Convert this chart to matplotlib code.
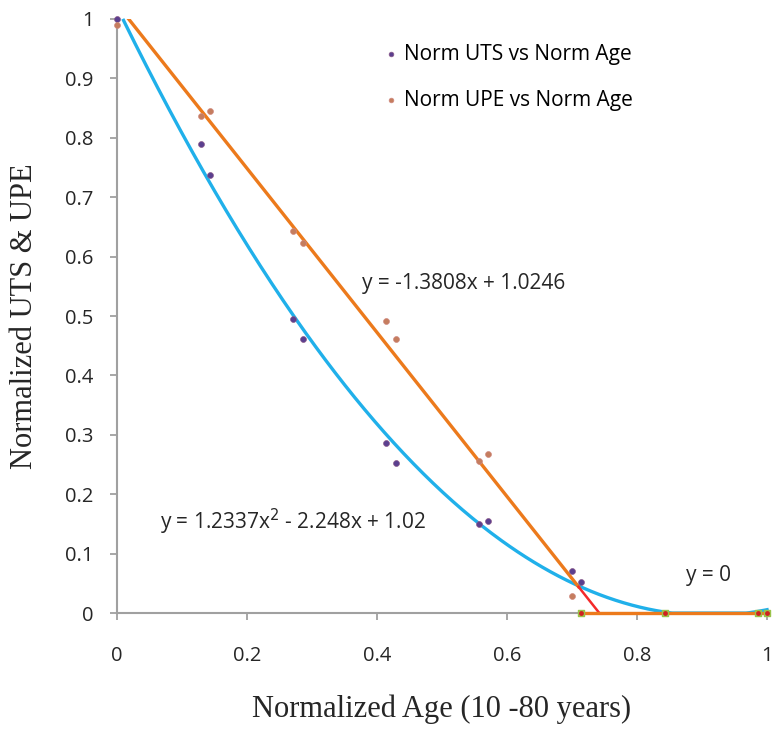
import matplotlib
matplotlib.use("Agg")
import matplotlib.pyplot as plt
import numpy as np

# ── Data ──────────────────────────────────────────────────────────────────────
uts_x = [0.0, 0.129, 0.143, 0.271, 0.286, 0.414, 0.429, 0.557, 0.571, 0.700, 0.714]
uts_y = [1.0, 0.790, 0.738, 0.495, 0.461, 0.287, 0.252, 0.150, 0.155, 0.070, 0.052]

upe_x = [0.0, 0.129, 0.143, 0.271, 0.286, 0.414, 0.429, 0.557, 0.571, 0.700]
upe_y = [0.990, 0.837, 0.845, 0.643, 0.623, 0.491, 0.461, 0.256, 0.268, 0.028]

zero_x = [0.714, 0.843, 0.986, 1.0]
zero_y = [0.0, 0.0, 0.0, 0.0]

# fitted equations shown on the chart
quad = [1.2337, -2.248, 1.02]
lin = [-1.3808, 1.0246]

x_ticks = [0, 0.2, 0.4, 0.6, 0.8, 1]
y_ticks = [0, 0.1, 0.2, 0.3, 0.4, 0.5, 0.6, 0.7, 0.8, 0.9, 1]

BLUE = "#20b0ea"
ORANGE = "#ec7a1c"
RED = "#f42a2a"
GRAY = "#a0a0a0"
UTS_C = "#5b3f8f"
UPE_C = "#c57d5e"
TXT = "#262626"
SANS = ["Open Sans", "DejaVu Sans"]
SERIF = ["Liberation Serif", "DejaVu Serif"]

fig = plt.figure(figsize=(7.72, 7.29), dpi=100)
ax = fig.add_axes([0.1516, 0.159, 0.842, 0.815])

# quadratic fit (UTS), clipped to [0, 1]
xq = np.linspace(0, 1, 400)
yq = np.polyval(quad, xq)
mask = yq <= 1.0
ax.plot(xq[mask], np.clip(yq[mask], 0, None), color=BLUE, lw=2.4, zorder=2,
        clip_on=False)

# linear fit (UPE): orange down to x=0.71, red to the zero crossing
x_top = (1 - lin[1]) / lin[0]
x_cross = 0.71
x_zero = -lin[1] / lin[0]
xl = np.array([x_top, x_cross])
ax.plot(xl, np.polyval(lin, xl), color=ORANGE, lw=2.4, zorder=3)
xr = np.array([x_cross, x_zero])
ax.plot(xr, np.polyval(lin, xr), color=RED, lw=1.8, zorder=3)

# y = 0 segment
ax.plot([zero_x[0], zero_x[-1]], [0, 0], color=ORANGE, lw=2.4, zorder=3, clip_on=False)
ax.scatter(zero_x, zero_y, marker="s", s=24, color="#9bc34a", edgecolors="#9bc34a",
           zorder=6, clip_on=False)
ax.scatter(zero_x, zero_y, marker="o", s=6, color="#d02020", zorder=7, clip_on=False)

# data points
ax.scatter(uts_x, uts_y, s=18, color=UTS_C, edgecolors="#8a5a8a", lw=0.5, zorder=5,
           label="Norm UTS vs Norm Age", clip_on=False)
ax.scatter(upe_x, upe_y, s=18, color=UPE_C, edgecolors="#d08a80", lw=0.5, zorder=5,
           label="Norm UPE vs Norm Age", clip_on=False)

# equation labels
ax.text(0.377, 0.554, "y = -1.3808x + 1.0246", fontsize=15, color=TXT, family=SANS,
        va="center")
ax.text(0.066, 0.153, "y = 1.2337x$^2$ - 2.248x + 1.02", fontsize=15, color=TXT,
        family=SANS, va="center")
ax.text(0.875, 0.064, "y = 0", fontsize=15, color=TXT, family=SANS, va="center")

ax.legend(loc="upper left", bbox_to_anchor=(0.373, 0.99), frameon=False,
          prop={"family": SANS, "size": 15}, handletextpad=0.05, labelspacing=1.2,
          markerscale=0.8, handlelength=1.2)

# axes styling
ax.set_xlim(0, 1)
ax.set_ylim(0, 1)
ax.set_xticks(x_ticks)
ax.set_xticklabels([f"{v:g}" for v in x_ticks])
ax.set_yticks(y_ticks)
ax.set_yticklabels([f"{v:g}" for v in y_ticks])
for s in ["top", "right"]:
    ax.spines[s].set_visible(False)
for s in ["left", "bottom"]:
    ax.spines[s].set_color(GRAY)
    ax.spines[s].set_linewidth(1.5)
ax.tick_params(direction="out", length=5, width=1.3, color=GRAY, labelcolor=TXT,
               labelsize=14.5)
ax.tick_params(axis="x", pad=19)
ax.tick_params(axis="y", pad=12)
for lab in ax.get_xticklabels() + ax.get_yticklabels():
    lab.set_family(SANS)

ax.set_xlabel("Normalized Age (10 -80 years)", family=SERIF, fontsize=22, color=TXT,
              va="center")
ax.xaxis.set_label_coords(0.5, -0.162)
ax.set_ylabel("Normalized UTS & UPE", family=SERIF, fontsize=22, color=TXT,
              va="center")
ax.yaxis.set_label_coords(-0.143, 0.5)

fig.savefig("out.png", dpi=100)
